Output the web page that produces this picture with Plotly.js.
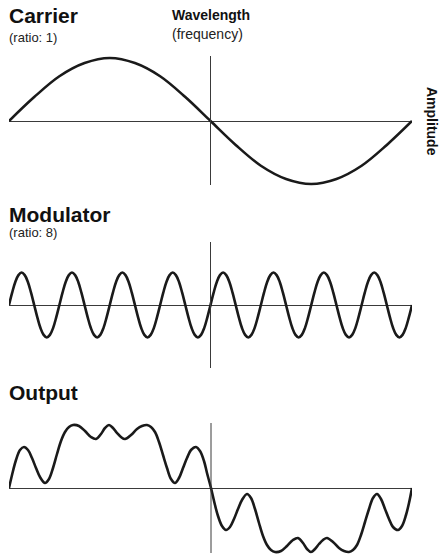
<!DOCTYPE html>
<html>
<head>
<meta charset="utf-8">
<script src="https://cdn.plot.ly/plotly-3.0.1.min.js"></script>
<style>html,body{margin:0;padding:0;background:#fff;}#chart{width:440px;height:555px;}</style>
</head>
<body>
<div id="chart"></div>
<script>
// Carrier (phase in degrees, amplitude in carrier units)
const carrierPhase = [0, 22.5, 45, 67.5, 90, 112.5, 135, 157.5, 180, 202.5, 225, 247.5, 270, 292.5, 315, 337.5, 360];
const carrierAmp = [0, 0.38, 0.71, 0.92, 1, 0.92, 0.71, 0.38, 0, -0.38, -0.71, -0.92, -1, -0.92, -0.71, -0.38, 0];

// Modulator (8 cycles, sampled every 1/16 cycle; x = sample index)
const modulatorAmp = [
  0, 0.38, 0.71, 0.92, 1, 0.92, 0.71, 0.38, 0, -0.38, -0.71, -0.92, -1, -0.92, -0.71, -0.38,
  0, 0.38, 0.71, 0.92, 1, 0.92, 0.71, 0.38, 0, -0.38, -0.71, -0.92, -1, -0.92, -0.71, -0.38,
  0, 0.38, 0.71, 0.92, 1, 0.92, 0.71, 0.38, 0, -0.38, -0.71, -0.92, -1, -0.92, -0.71, -0.38,
  0, 0.38, 0.71, 0.92, 1, 0.92, 0.71, 0.38, 0, -0.38, -0.71, -0.92, -1, -0.92, -0.71, -0.38,
  0, 0.38, 0.71, 0.92, 1, 0.92, 0.71, 0.38, 0, -0.38, -0.71, -0.92, -1, -0.92, -0.71, -0.38,
  0, 0.38, 0.71, 0.92, 1, 0.92, 0.71, 0.38, 0, -0.38, -0.71, -0.92, -1, -0.92, -0.71, -0.38,
  0, 0.38, 0.71, 0.92, 1, 0.92, 0.71, 0.38, 0, -0.38, -0.71, -0.92, -1, -0.92, -0.71, -0.38,
  0, 0.38, 0.71, 0.92, 1, 0.92, 0.71, 0.38, 0, -0.38, -0.71, -0.92, -1, -0.92, -0.71, -0.38,
  0
];

// Output (time along one carrier wavelength, 0..403; amplitude where carrier peak = 63)
const outputTime = [0, 4, 7, 11, 15, 19, 23, 27, 31, 36, 40, 44, 48, 52, 56, 60, 64, 70, 76, 82, 87, 92, 96, 100, 104, 108, 112, 116, 122, 128, 133, 138, 142, 146, 150, 154, 158, 162, 166, 170, 174, 178, 182, 187, 191, 195, 198, 202,
  206, 209, 213, 217, 221, 225, 229, 233, 238, 242, 246, 250, 254, 258, 262, 266, 272, 278, 284, 289, 294, 298, 302, 306, 310, 314, 318, 324, 330, 335, 340, 344, 348, 352, 356, 360, 364, 368, 372, 376, 380, 384, 389, 393, 397, 400, 403];
const outputAmp = [0, 17, 28, 38, 41, 38, 30, 20, 11, 5, 9, 20, 34, 47, 56, 61, 63, 62, 57, 51, 49, 54, 60, 63, 60, 55, 51, 49, 53, 59, 62, 63, 61, 56, 46, 33, 20, 9, 5, 10, 20, 30, 38, 41, 37, 27, 15, 0,
  -17, -28, -38, -42, -39, -31, -21, -12, -6, -10, -21, -35, -48, -57, -62, -64, -63, -58, -52, -50, -55, -61, -64, -61, -56, -52, -50, -54, -60, -63, -64, -62, -57, -47, -34, -21, -10, -6, -11, -21, -31, -39, -42, -38, -27, -15, 0];

const titles = ['Carrier', 'Modulator', 'Output'];
const subtitles = ['(ratio: 1)', '(ratio: 8)'];
const xLabel = ['Wavelength', '(frequency)'];
const yLabel = 'Amplitude';

const FONT = 'Liberation Sans, Arial, Helvetica, sans-serif';
const curve = {color: '#1a1a1a', width: 2.6, shape: 'spline', smoothing: 1};

const traces = [
  {x: carrierPhase, y: carrierAmp, xaxis: 'x', yaxis: 'y', mode: 'lines', line: curve, hoverinfo: 'skip'},
  {y: modulatorAmp, xaxis: 'x2', yaxis: 'y2', mode: 'lines', line: curve, hoverinfo: 'skip'},
  {x: outputTime, y: outputAmp, xaxis: 'x3', yaxis: 'y3', mode: 'lines', line: curve, hoverinfo: 'skip'}
];

const H = 555, W = 440;
const py = p => 1 - p / H;
const xDom = [9 / W, 412 / W];
const xBase = {domain: xDom, showgrid: false, zeroline: false, showticklabels: false, ticks: '', showline: false, fixedrange: true};
const yBase = {showgrid: false, zeroline: true, zerolinecolor: '#3a3a3a', zerolinewidth: 1, showticklabels: false, ticks: '', showline: false, fixedrange: true};

function yr(axisPx, unitPx, topPx, botPx) {
  return [(axisPx - botPx) / unitPx, (axisPx - topPx) / unitPx];
}

const layout = {
  width: W, height: H,
  margin: {l: 0, r: 0, t: 0, b: 0},
  paper_bgcolor: '#fff', plot_bgcolor: 'rgba(0,0,0,0)',
  showlegend: false,
  font: {family: FONT, color: '#111'},
  xaxis: Object.assign({}, xBase, {range: [0, 360], anchor: 'y'}),
  yaxis: Object.assign({}, yBase, {domain: [py(200), py(40)], range: yr(121, 63, 40, 200), anchor: 'x'}),
  xaxis2: Object.assign({}, xBase, {range: [0, 128], anchor: 'y2'}),
  yaxis2: Object.assign({}, yBase, {domain: [py(380), py(230)], range: yr(305, 32.5, 230, 380), anchor: 'x2'}),
  xaxis3: Object.assign({}, xBase, {range: [0, 403], anchor: 'y3'}),
  yaxis3: Object.assign({}, yBase, {domain: [py(555), py(405)], range: yr(488, 1, 405, 555), anchor: 'x3'}),
  shapes: [
    {type: 'line', xref: 'x', yref: 'paper', x0: 180, x1: 180, y0: py(185), y1: py(56), line: {color: '#3a3a3a', width: 1}},
    {type: 'line', xref: 'x2', yref: 'paper', x0: 64, x1: 64, y0: py(368), y1: py(242), line: {color: '#3a3a3a', width: 1}},
    {type: 'line', xref: 'x3', yref: 'paper', x0: 202, x1: 202, y0: py(553), y1: py(423), line: {color: '#3a3a3a', width: 1}}
  ],
  annotations: [
    {text: '<b>' + titles[0] + '</b>', xref: 'paper', yref: 'paper', x: 8 / W, y: py(15.5), xanchor: 'left', yanchor: 'middle', borderpad: 0, showarrow: false, font: {size: 21, color: '#111'}},
    {text: subtitles[0], xref: 'paper', yref: 'paper', x: 8 / W, y: py(38), xanchor: 'left', yanchor: 'middle', borderpad: 0, showarrow: false, font: {size: 13, color: '#222'}},
    {text: '<b>' + xLabel[0] + '</b>', xref: 'paper', yref: 'paper', x: 171 / W, y: py(15), xanchor: 'left', yanchor: 'middle', borderpad: 0, showarrow: false, font: {size: 14, color: '#111'}},
    {text: xLabel[1], xref: 'paper', yref: 'paper', x: 171 / W, y: py(34), xanchor: 'left', yanchor: 'middle', borderpad: 0, showarrow: false, font: {size: 14, color: '#222'}},
    {text: '<b>' + yLabel + '</b>', xref: 'paper', yref: 'paper', x: 432 / W, y: py(121), xanchor: 'center', yanchor: 'middle', textangle: 90, borderpad: 0, showarrow: false, font: {size: 14, color: '#111'}},
    {text: '<b>' + titles[1] + '</b>', xref: 'paper', yref: 'paper', x: 8 / W, y: py(214), xanchor: 'left', yanchor: 'middle', borderpad: 0, showarrow: false, font: {size: 21, color: '#111'}},
    {text: subtitles[1], xref: 'paper', yref: 'paper', x: 8 / W, y: py(233), xanchor: 'left', yanchor: 'middle', borderpad: 0, showarrow: false, font: {size: 13, color: '#222'}},
    {text: '<b>' + titles[2] + '</b>', xref: 'paper', yref: 'paper', x: 8 / W, y: py(392.5), xanchor: 'left', yanchor: 'middle', borderpad: 0, showarrow: false, font: {size: 21, color: '#111'}}
  ]
};

Plotly.newPlot('chart', traces, layout, {displayModeBar: false, staticPlot: true});
</script>
</body>
</html>
